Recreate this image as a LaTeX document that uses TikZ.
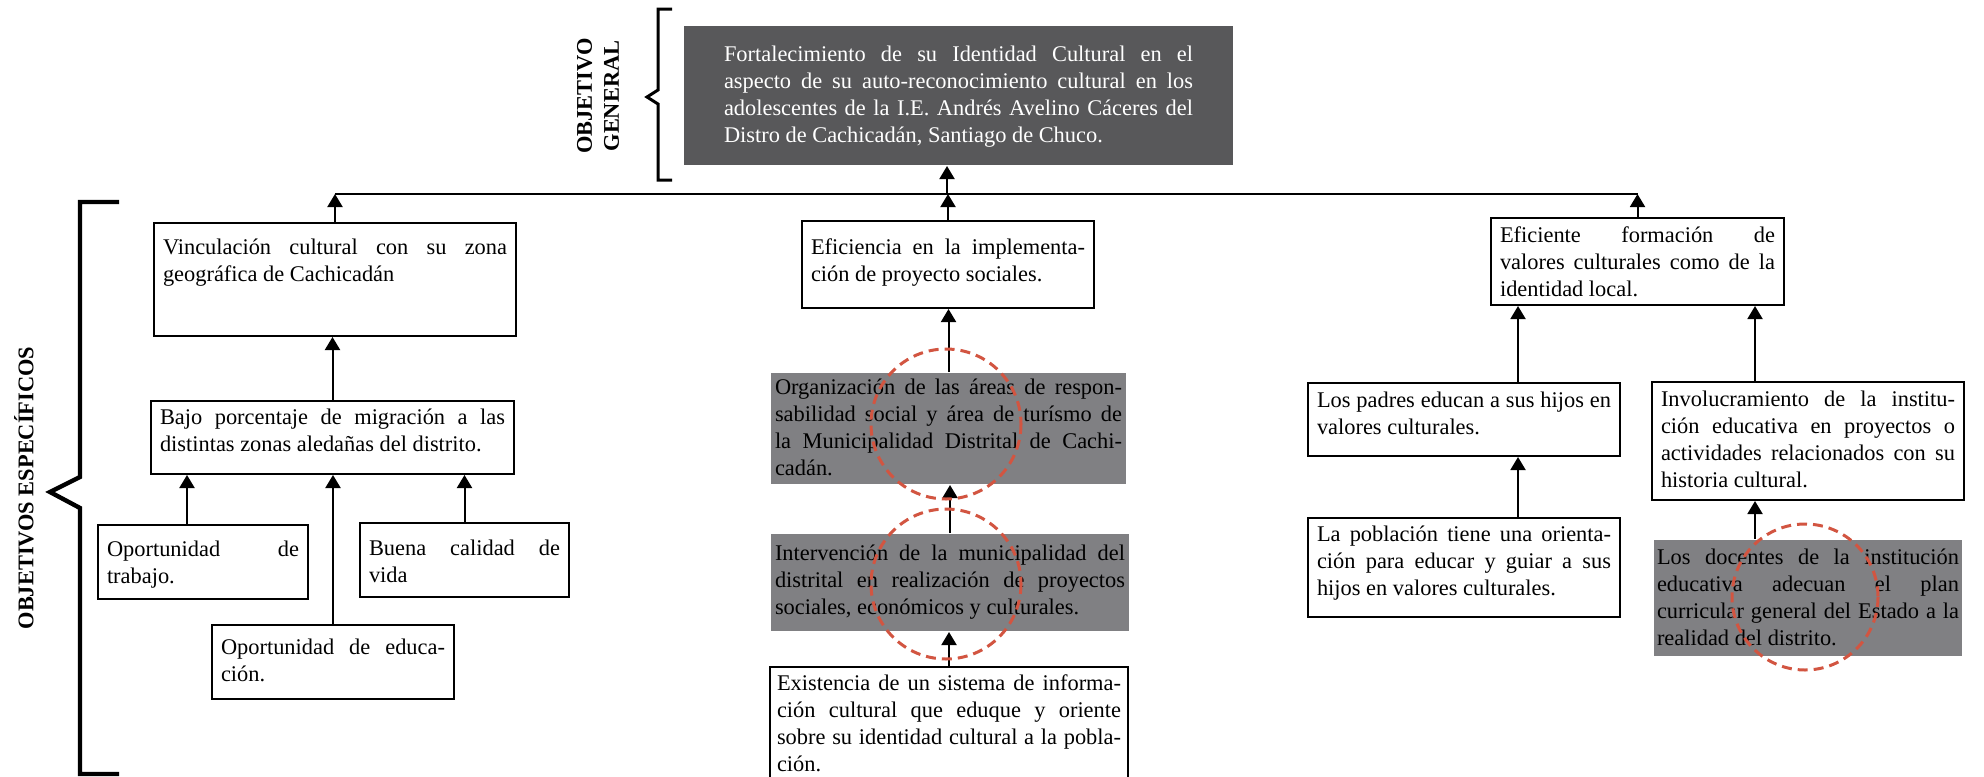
\documentclass[tikz,border=0pt]{standalone}
\usepackage{fontspec}
\setmainfont{Liberation Serif}
\usetikzlibrary{arrows.meta}
\definecolor{oscuro}{RGB}{88,88,90}
\definecolor{gris}{RGB}{128,128,131}
\definecolor{rojo}{RGB}{210,85,65}
\tolerance=10000
\hyphenpenalty=10000

\begin{document}
\begin{tikzpicture}[x=0.5pt,y=-0.5pt,
    font=\fontsize{11.2}{13.5}\selectfont,
    caja/.style={draw, line width=1pt, anchor=north west, align=justify,
                 inner xsep=4.5pt, inner ysep=0pt},
    sombra/.style={caja, draw=none, fill=gris},
    titulo/.style={rotate=90, align=center, font=\fontsize{11.2}{13.5}\selectfont\bfseries},
    flecha/.style={line width=1pt, -{Triangle[width=7.5pt,length=6.5pt]}},
    circulo/.style={draw=rojo, line width=1.5pt, dash pattern=on 5pt off 3pt},
    llave/.style={line width=1.5pt}]
    \useasboundingbox (0,0) rectangle (1984,776);

    % objetivo general
    \node[caja, draw=none, fill=oscuro, text=white, inner xsep=20pt,
          text width=234.5pt, text height=17.5pt, text depth=52pt] (top) at (683,25)
        {Fortalecimiento de su Identidad Cultural en el\linebreak aspecto de su auto-reconocimiento cultural en los\linebreak adolescentes de la I.E. Andrés Avelino Cáceres del\linebreak Distro de Cachicadán, Santiago de Chuco.};
    \node[titulo] (og) at (598,96) {OBJETIVO\\GENERAL};
    \draw[llave] (672,9) -- (658,9) -- (658,90) -- (647,97) -- (658,104) -- (658,180) -- (672,180);

    % columna izquierda
    \node[caja, text width=172pt, text height=15.5pt, text depth=41pt] (vinc) at (153,222)
        {Vinculación cultural con su zona\linebreak geográfica de Cachicadán};
    \node[caja, text width=172.5pt, text height=11.5pt, text depth=25pt] (bajo) at (150,400)
        {Bajo porcentaje de migración a las\linebreak distintas zonas aledañas del distrito.};
    \node[caja, text width=96pt, text height=15.5pt, text depth=21.5pt] (trab) at (97,524)
        {Oportunidad de\linebreak trabajo.};
    \node[caja, text width=95.5pt, text height=16pt, text depth=21pt] (buena) at (359,522)
        {Buena calidad de\linebreak vida};
    \node[caja, text width=112pt, text height=14.5pt, text depth=22.5pt] (educ) at (211,624)
        {Oportunidad de educa-\linebreak ción.};

    % columna central
    \node[caja, text width=137pt, text height=16.5pt, text depth=27pt] (efic) at (801,220)
        {Eficiencia en la implementa-\linebreak ción de proyecto sociales.};
    \node[sombra, inner xsep=2pt, text width=173.5pt, text height=10.5pt, text depth=45pt] (org) at (770,372)
        {Organización de las áreas de respon-\linebreak sabilidad social y área de turísmo de\linebreak la Municipalidad Distrital de Cachi-\linebreak cadán.};
    \node[sombra, inner xsep=2pt, text width=175pt, text height=13pt, text depth=35.5pt] (interv) at (770,533)
        {Intervención de la municipalidad del\linebreak distrital en realización de proyectos\linebreak sociales, económicos y culturales.};
    \node[caja, inner xsep=3.5pt, text width=172pt, text height=11.5pt, text depth=53.5pt] (exist) at (769,666)
        {Existencia de un sistema de informa-\linebreak ción cultural que eduque y oriente\linebreak sobre su identidad cultural a la pobla-\linebreak ción.};

    % columna derecha
    \node[caja, text width=137.5pt, text height=12pt, text depth=31.5pt] (efte) at (1490,217)
        {Eficiente formación de\linebreak valores culturales como de la\linebreak identidad local.};
    \node[caja, text width=147pt, text height=12pt, text depth=24.5pt] (padres) at (1307,382)
        {Los padres educan a sus hijos en\linebreak valores culturales.};
    \node[caja, text width=147pt, text height=11.5pt, text depth=38pt] (pobl) at (1307,517)
        {La población tiene una orienta-\linebreak ción para educar y guiar a sus\linebreak hijos en valores culturales.};
    \node[caja, text width=147pt, text height=12pt, text depth=47pt] (invol) at (1651,381)
        {Involucramiento de la institu-\linebreak ción educativa en proyectos o\linebreak actividades relacionados con su\linebreak historia cultural.};
    \node[sombra, inner xsep=1.5pt, text width=151pt, text height=12pt, text depth=46pt] (docen) at (1653,539)
        {Los docentes de la institución\linebreak educativa adecuan el plan\linebreak curricular general del Estado a la\linebreak realidad del distrito.};

    % objetivos especificos
    \node[titulo] (oe) at (24,488) {OBJETIVOS ESPECÍFICOS};
    \draw[llave, line width=2.2pt] (119,202) -- (80,202) -- (80,477) -- (50,492) -- (80,508) -- (80,774) -- (119,774);

    % conexiones
    \coordinate (bus) at (947,194);
    \draw[line width=1pt] (vinc.north |- bus) -- (efte.north |- bus);
    \draw[flecha] (bus) -- (top.south -| bus);
    \draw[flecha] (vinc.north) -- (vinc.north |- bus);
    \draw[flecha] (efic.north) -- (efic.north |- bus);
    \draw[flecha] (efte.north) -- (efte.north |- bus);

    \draw[flecha] (bajo.north) -- (bajo.north |- vinc.south);
    \draw[flecha] ([xshift=-8pt]trab.north) -- ([xshift=-8pt]trab.north |- bajo.south);
    \draw[flecha] (buena.north) -- (buena.north |- bajo.south);
    \draw[flecha] (educ.north) -- (educ.north |- bajo.south);

    \draw[flecha] (org.north) -- (org.north |- efic.south);
    \draw[flecha] (interv.north) -- (interv.north |- org.south);
    \draw[flecha] (exist.north) -- (exist.north |- interv.south);

    \draw[flecha] ([xshift=27pt]padres.north) -- ([xshift=27pt]padres.north |- efte.south);
    \draw[flecha] ([xshift=27pt]pobl.north) -- ([xshift=27pt]pobl.north |- padres.south);
    \draw[flecha] ([xshift=-26.5pt]invol.north) -- ([xshift=-26.5pt]invol.north |- efte.south);
    \draw[flecha] ([xshift=-26.5pt]docen.north) -- ([xshift=-26.5pt]docen.north |- invol.south);

    % circulos
    \draw[circulo] (946,424) circle[radius=75];
    \draw[circulo] (946,584) circle[radius=75];
    \draw[circulo] (1805,597) circle[radius=73];
\end{tikzpicture}
\end{document}
